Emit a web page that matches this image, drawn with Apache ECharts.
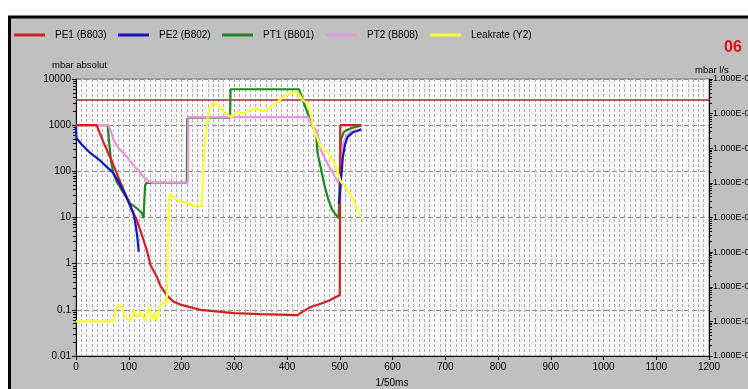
<!DOCTYPE html>
<html>
<head>
<meta charset="utf-8">
<script src="https://cdn.jsdelivr.net/npm/echarts@6/dist/echarts.min.js"></script>
<style>
html,body{margin:0;padding:0;background:#fff;}
#c{width:748px;height:389px;}
</style>
</head>
<body>
<div id="c"></div>
<script>
// ---------- data ----------
const seriesNames = ['PE1 (B803)', 'PE2 (B802)', 'PT1 (B801)', 'PT2 (B808)', 'Leakrate (Y2)'];
const leftTicks = [0.01, 0.1, 1, 10, 100, 1000, 10000];
const rightTicks = [1e-9, 1e-8, 1e-7, 1e-6, 1e-5, 1e-4, 1e-3, 1e-2, 1e-1];

const pe1X = [0, 39, 52, 65, 75, 85, 96, 105, 115, 124, 134, 141, 154, 160, 173, 185, 198, 236, 300, 350, 420, 432, 445, 464, 480, 500, 501, 541];
const pe1Y = [1000, 1000, 430, 200, 105, 55, 28, 15, 9, 4.5, 2, 0.95, 0.5, 0.33, 0.2, 0.15, 0.13, 0.1, 0.085, 0.081, 0.077, 0.095, 0.115, 0.135, 0.16, 0.21, 1000, 1000];

const pe2X = [0, 1, 10, 27, 46, 55, 68, 80, 93, 103, 109, 113, 116, 119, 300, 498, 500, 503, 506, 510, 515, 525, 541];
const pe2Y = [930, 520, 390, 250, 170, 135, 100, 62, 32, 18, 12, 7, 4, 1.8, null, 20, 28, 80, 210, 380, 560, 700, 815];

const pt1X = [0, 60, 63, 66, 70, 77, 90, 103, 115, 125, 128, 131, 134, 210, 211, 215, 292, 293, 423, 432, 445, 455, 458, 464, 470, 478, 486, 498, 500, 502, 508, 520, 534, 540];
const pt1Y = [1000, 1000, 410, 180, 100, 60, 34, 20, 16, 12.4, 9.7, 50, 56, 56, 1400, 1450, 1450, 6000, 6000, 3000, 1200, 660, 245, 120, 56, 25, 14.5, 9.6, 80, 480, 720, 850, 940, 960];

const pt2X = [0, 61, 66, 71, 80, 96, 110, 122, 130, 138, 145, 212, 213, 440, 448, 455, 460, 464, 472, 480, 490, 496, 501, 502, 505, 509, 515, 521, 530, 540];
const pt2Y = [1000, 1000, 750, 480, 330, 210, 130, 92, 72, 60, 57, 57, 1500, 1500, 940, 790, 500, 290, 190, 126, 80, 60, 55, 210, 350, 480, 620, 720, 745, 750];

const leakX = [0, 71, 76, 80, 86, 93, 103, 109, 117, 122, 131, 138, 144, 150, 154, 158, 163, 169, 172, 174, 176, 179, 184, 195, 211, 230, 238, 242, 245, 252, 258, 268, 277, 287, 296, 306, 318, 331, 344, 356, 369, 382, 394, 407, 420, 429, 439, 445, 451, 464, 474, 483, 493, 502, 515, 525, 531, 540];
const leakY = [1e-8, 1e-8, 2.2e-8, 2.9e-8, 2.8e-8, 1.35e-8, 1.07e-8, 2.1e-8, 1.35e-8, 1.86e-8, 1.07e-8, 2.6e-8, 1.07e-8, 1.86e-8, 1.07e-8, 2.6e-8, 3.3e-8, 3.6e-8, 3e-8, 1e-6, 3e-5, 5e-5, 4e-5, 3e-5, 2.6e-5, 2e-5, 2.2e-5, 4.6e-4, 2.1e-3, 1.26e-2, 2e-2, 1.8e-2, 1.26e-2, 9.1e-3, 8.1e-3, 1.15e-2, 1.02e-2, 1.26e-2, 1.4e-2, 1.15e-2, 1.6e-2, 2.2e-2, 3.1e-2, 3.9e-2, 4.3e-2, 2.5e-2, 2e-2, 1e-2, 3.4e-3, 1.1e-3, 8.9e-4, 5.6e-4, 2.95e-4, 1.07e-4, 6.2e-5, 3.5e-5, 2e-5, 1.05e-5];

const limitX = [0, 1200];
const limitY = [3500, 3500];

// ---------- build ----------
const zip = (xs, ys) => xs.map((x, i) => [x, ys[i] == null ? '-' : ys[i]]);
const FONT = "'Liberation Sans Narrow', 'Arial Narrow', 'Liberation Sans', Arial, sans-serif";
const colors = {
  pe1: '#d42020', pe2: '#1414c8', pt1: '#228822', pt2: '#e896e0', leak: '#ffff30', limit: '#a83030'
};
const legendLeft = [14, 118, 222, 326, 430];

function fmtLeft(v) {
  const m = leftTicks.find(t => Math.abs(Math.log10(t) - Math.log10(v)) < 1e-6);
  return m != null ? String(m) : '';
}
function fmtRight(v) {
  const e = Math.round(Math.log10(v));
  const s = Math.abs(e) < 10 ? '0' + Math.abs(e) : String(Math.abs(e));
  return '1.000E' + (e < 0 ? '-' : '+') + s;
}

const chart = echarts.init(document.getElementById('c'), null, {renderer: 'canvas'});
const line = (name, xs, ys, color, yIdx, z, w) => ({
  name, type: 'line', data: zip(xs, ys), yAxisIndex: yIdx, symbol: 'none',
  lineStyle: {color, width: w || 2.2}, itemStyle: {color}, z, connectNulls: false,
  animation: false
});

chart.setOption({
  animation: false,
  backgroundColor: '#ffffff',
  textStyle: {fontFamily: FONT},
  graphic: [
    {type: 'rect', z: -10, silent: true, shape: {x: 9.5, y: 17, width: 800, height: 420},
     style: {fill: '#c0c0c0', stroke: '#000', lineWidth: 3}},
    {type: 'text', z: 10, x: 52, y: 65, style: {text: 'mbar absolut', fontFamily: FONT, fontSize: 9.5, fill: '#000', verticalAlign: 'middle'}},
    {type: 'text', z: 10, x: 695, y: 70, style: {text: 'mbar l/s', fontFamily: FONT, fontSize: 9.5, fill: '#000', verticalAlign: 'middle'}},
    {type: 'text', z: 10, x: 392, y: 383, style: {text: '1/50ms', fontFamily: FONT, fontSize: 10, fill: '#000', align: 'center', verticalAlign: 'middle'}},
    {type: 'text', z: 10, x: 733, y: 48, style: {text: '06', fontFamily: 'Liberation Sans, Arial, sans-serif', fontWeight: 'bold', fontSize: 16, fill: '#e01010', align: 'center', verticalAlign: 'middle'}}
  ],
  legend: seriesNames.map((n, i) => ({
    data: [n], left: legendLeft[i], top: 30, padding: 0, icon: 'rect',
    itemWidth: 31, itemHeight: 3, selectedMode: false,
    textStyle: {fontFamily: FONT, fontSize: 10, color: '#000', padding: [0, 0, 0, 5]}
  })),
  grid: {left: 76, right: 39, top: 79, bottom: 33, containLabel: false, outerBoundsMode: 'none',
         show: true, backgroundColor: '#f8f8f8', borderColor: '#808080', borderWidth: 1},
  xAxis: {
    type: 'value', min: 0, max: 1200, interval: 100,
    axisLine: {show: true, lineStyle: {color: '#000', width: 1}},
    axisTick: {show: true, length: 4, lineStyle: {color: '#000'}},
    minorTick: {show: true, splitNumber: 10, length: 0},
    axisLabel: {color: '#000', fontSize: 10, fontFamily: FONT, margin: 6, formatter: v => String(v)},
    splitLine: {show: true, lineStyle: {color: '#a4a4a4', type: [3, 2], width: 1}},
    minorSplitLine: {show: true, lineStyle: {color: '#b0b0b0', type: [3, 2], width: 1}}
  },
  yAxis: [
    {
      type: 'log', logBase: 10, min: 0.01, max: 10000, position: 'left',
      axisLine: {show: true, onZero: false, lineStyle: {color: '#000', width: 1}},
      axisTick: {show: true, length: 4, lineStyle: {color: '#000'}},
      minorTick: {show: true, splitNumber: 9, length: 3, lineStyle: {color: '#000'}},
      axisLabel: {color: '#000', fontSize: 10, fontFamily: FONT, margin: 5, formatter: fmtLeft},
      splitLine: {show: true, lineStyle: {color: '#8a8a8a', type: [5, 3], width: 1}}
    },
    {
      type: 'log', logBase: 10, min: 1e-9, max: 1e-1, position: 'right',
      axisLine: {show: true, onZero: false, lineStyle: {color: '#000', width: 1}},
      axisTick: {show: true, length: 4, lineStyle: {color: '#000'}},
      minorTick: {show: true, splitNumber: 9, length: 3, lineStyle: {color: '#000'}},
      axisLabel: {color: '#000', fontSize: 9, fontFamily: FONT, margin: 4, formatter: fmtRight},
      splitLine: {show: false}
    }
  ],
  series: [
    Object.assign(line('limit', limitX, limitY, colors.limit, 0, 1, 1.5), {legendHoverLink: false}),
    line(seriesNames[2], pt1X, pt1Y, colors.pt1, 0, 2),
    line(seriesNames[3], pt2X, pt2Y, colors.pt2, 0, 3),
    line(seriesNames[0], pe1X, pe1Y, colors.pe1, 0, 4),
    line(seriesNames[1], pe2X, pe2Y, colors.pe2, 0, 5),
    line(seriesNames[4], leakX, leakY, colors.leak, 1, 6)
  ]
});
</script>
</body>
</html>
